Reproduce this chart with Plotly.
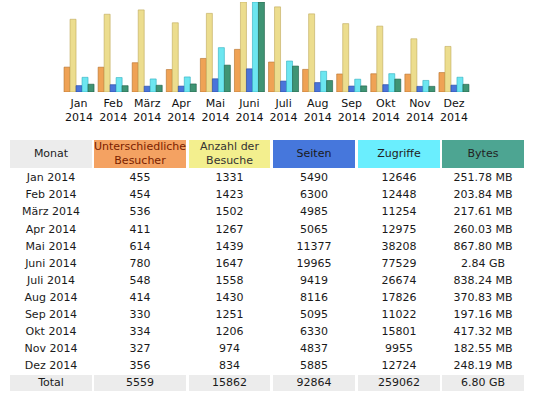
import plotly.graph_objects as go

months = ["Jan", "Feb", "März", "Apr", "Mai", "Juni", "Juli", "Aug", "Sep", "Okt", "Nov", "Dez"]
year = "2014"
visitors = [455, 454, 536, 411, 614, 780, 548, 414, 330, 334, 327, 356]
visits = [1331, 1423, 1502, 1267, 1439, 1647, 1558, 1430, 1251, 1206, 974, 834]
pages = [5490, 6300, 4985, 5065, 11377, 19965, 9419, 8116, 5095, 6330, 4837, 5885]
hits = [12646, 12448, 11254, 12975, 38208, 77529, 26674, 17826, 11022, 15801, 9955, 12724]
bytes_label = ["251.78 MB", "203.84 MB", "217.61 MB", "260.03 MB", "867.80 MB", "2.84 GB",
               "838.24 MB", "370.83 MB", "197.16 MB", "417.32 MB", "182.55 MB", "248.19 MB"]
bytes_mb = [251.78, 203.84, 217.61, 260.03, 867.80, 2908.16, 838.24, 370.83, 197.16, 417.32, 182.55, 248.19]
totals = ["Total", "5559", "15862", "92864", "259062", "6.80 GB"]
headers = ["Monat", "Unterschiedliche<br>Besucher", "Anzahl der<br>Besuche", "Seiten", "Zugriffe", "Bytes"]

# ---- layout constants (pixels) ----
W, H = 535, 397
FONT = "DejaVu Sans"
col_edges = [(10, 92), (94, 186), (189, 270), (273, 355), (358, 440), (442, 524)]
header_fill = ["#ECECEC", "#F4A262", "#F3EF8E", "#4677DC", "#6AEEFE", "#4DA592"]
header_font = ["#222222", "#7A1E00", "#333333", "#1A1A1A", "#222222", "#222222"]
header_y = (140, 168)
row_y0, row_step = 178.5, 17.1
total_y = (375, 391)

fig = go.Figure()

# ---- bar chart ----
bw = 0.176
series = [
    (visitors, "y", "#EFA255", "#B56E28"),
    (visits, "y", "#ECDD8E", "#BFA95A"),
    (pages, "y2", "#4A74DA", "#21439E"),
    (hits, "y2", "#6CE6F0", "#2FAFBF"),
    (bytes_mb, "y3", "#3F9474", "#1F5C45"),
]
for k, (vals, ax, col, edge) in enumerate(series):
    fig.add_trace(go.Bar(
        x=list(range(12)), y=vals, xaxis="x", yaxis=ax, width=bw, offset=-2.5 * bw + k * bw,
        marker=dict(color=col, line=dict(color=edge, width=0.6)),
        showlegend=False, hoverinfo="skip"))

cats = [f"{m}<br>{year}" for m in months]
ydom = [1 - 92 / H, 1 - 2 / H]

# ---- table (text traces on a pixel-like hidden axis pair) ----
xc = [(a + b) / 2 for a, b in col_edges]
hy = (header_y[0] + header_y[1]) / 2 + 0.5
fig.add_trace(go.Scatter(
    x=xc, y=[hy] * 6, text=headers, mode="text", xaxis="x2", yaxis="y4",
    textfont=dict(family=FONT, size=11, color=header_font),
    showlegend=False, hoverinfo="skip", cliponaxis=False))

rows_month = [f"{m} {year}" for m in months]
cols = [
    rows_month,
    [str(v) for v in visitors],
    [str(v) for v in visits],
    [str(v) for v in pages],
    [str(v) for v in hits],
    bytes_label,
]
row_ys = [row_y0 + i * row_step for i in range(12)]
for c, vals in enumerate(cols):
    fig.add_trace(go.Scatter(
        x=[xc[c]] * len(vals), y=row_ys, text=vals, mode="text", xaxis="x2", yaxis="y4",
        textfont=dict(family=FONT, size=11, color="#1A1A1A"),
        showlegend=False, hoverinfo="skip", cliponaxis=False))
ty = (total_y[0] + total_y[1]) / 2
fig.add_trace(go.Scatter(
    x=xc, y=[ty] * 6, text=totals, mode="text", xaxis="x2", yaxis="y4",
    textfont=dict(family=FONT, size=11, color="#1A1A1A"),
    showlegend=False, hoverinfo="skip", cliponaxis=False))

shapes = []
for (a, b), fc in zip(col_edges, header_fill):
    shapes.append(dict(type="rect", xref="x2", yref="y4", x0=a, x1=b, y0=header_y[0], y1=header_y[1],
                       fillcolor=fc, line=dict(width=0), layer="below"))
    shapes.append(dict(type="rect", xref="x2", yref="y4", x0=a, x1=b, y0=total_y[0], y1=total_y[1],
                       fillcolor="#ECECEC", line=dict(width=0), layer="below"))

fig.update_layout(
    width=W, height=H, margin=dict(l=0, r=0, t=0, b=0),
    paper_bgcolor="white", plot_bgcolor="rgba(0,0,0,0)",
    font=dict(family=FONT, size=11, color="#111"),
    xaxis=dict(domain=[62 / W, 471 / W], range=[-0.5, 11.5], tickmode="array",
               tickvals=list(range(12)), ticktext=cats, showgrid=False, zeroline=False,
               showline=False, ticks="", ticklabelstandoff=3,
               tickfont=dict(family=FONT, size=11, color="#111"), anchor="y"),
    yaxis=dict(domain=ydom, range=[0, max(visits)], visible=False, anchor="x"),
    yaxis2=dict(domain=ydom, range=[0, max(hits)], visible=False, overlaying="y", anchor="x"),
    yaxis3=dict(domain=ydom, range=[0, max(bytes_mb)], visible=False, overlaying="y", anchor="x"),
    xaxis2=dict(domain=[0, 1], range=[0, W], visible=False, anchor="y4"),
    yaxis4=dict(domain=[0, 1], range=[H, 0], visible=False, anchor="x2"),
    shapes=shapes,
)

fig.write_html("out.html", config={"displayModeBar": False},
               post_script="document.body.style.margin='0px';")
